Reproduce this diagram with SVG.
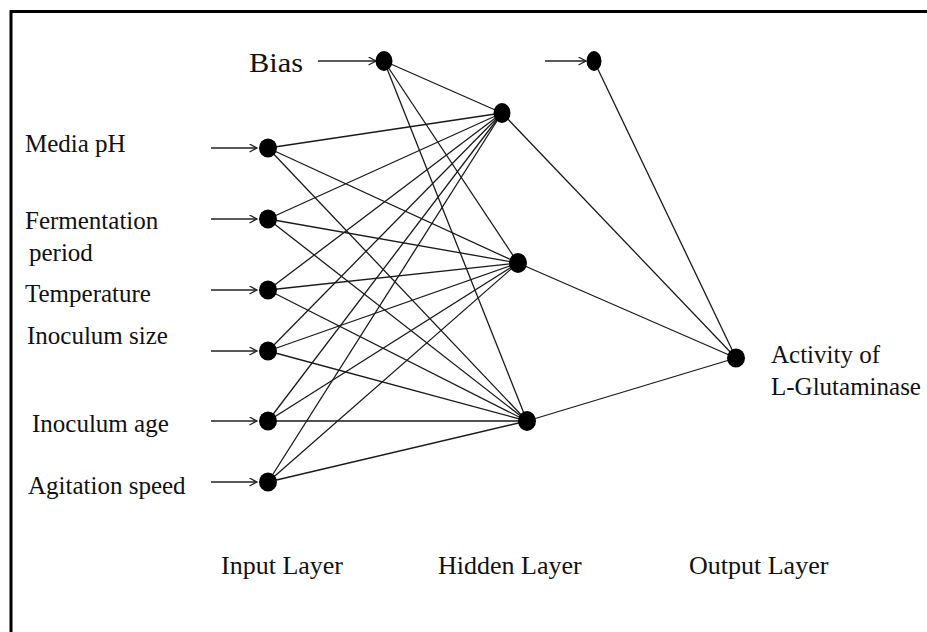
<svg xmlns="http://www.w3.org/2000/svg" width="927" height="632" viewBox="0 0 927 632">
  <defs>
    <marker id="open-arrow" markerWidth="10" markerHeight="10" refX="8" refY="4.5" orient="auto" markerUnits="userSpaceOnUse">
      <path d="M0.5,0.5 L8,4.5 L0.5,8.5" fill="none" stroke="#222" stroke-width="1.3"/>
    </marker>
  </defs>
  <style>
    .frame { fill: none; stroke: #000; stroke-width: 3; }
    .edge { stroke: #1a1a1a; stroke-width: 1.3; fill: none; }
    .feed { stroke: #222; stroke-width: 1.4; fill: none; marker-end: url(#open-arrow); }
    .node { fill: #000; }
    .label { font-family: "Liberation Serif", "Times New Roman", serif; font-size: 25px; fill: #111; }
    .caption { font-family: "Liberation Serif", "Times New Roman", serif; font-size: 26px; fill: #111; }
    .bias { font-family: "Liberation Serif", "Times New Roman", serif; font-size: 28px; fill: #111; }
  </style>

  <rect width="927" height="632" fill="#fff"/>
  <path class="frame" d="M11,640 V11.5 H935"/>

  <!-- weighted connections -->
  <g id="connectors">
    <!-- input layer to hidden layer -->
    <line class="edge" x1="268" y1="148" x2="502" y2="113"/>
    <line class="edge" x1="268" y1="148" x2="518" y2="263"/>
    <line class="edge" x1="268" y1="148" x2="527" y2="421"/>
    <line class="edge" x1="268" y1="219" x2="502" y2="113"/>
    <line class="edge" x1="268" y1="219" x2="518" y2="263"/>
    <line class="edge" x1="268" y1="219" x2="527" y2="421"/>
    <line class="edge" x1="268" y1="290" x2="502" y2="113"/>
    <line class="edge" x1="268" y1="290" x2="518" y2="263"/>
    <line class="edge" x1="268" y1="290" x2="527" y2="421"/>
    <line class="edge" x1="268" y1="351" x2="502" y2="113"/>
    <line class="edge" x1="268" y1="351" x2="518" y2="263"/>
    <line class="edge" x1="268" y1="351" x2="527" y2="421"/>
    <line class="edge" x1="268" y1="421" x2="502" y2="113"/>
    <line class="edge" x1="268" y1="421" x2="518" y2="263"/>
    <line class="edge" x1="268" y1="421" x2="527" y2="421"/>
    <line class="edge" x1="268" y1="482" x2="502" y2="113"/>
    <line class="edge" x1="268" y1="482" x2="518" y2="263"/>
    <line class="edge" x1="268" y1="482" x2="527" y2="421"/>
    <!-- hidden bias -->
    <line class="edge" x1="384" y1="61" x2="502" y2="113"/>
    <line class="edge" x1="384" y1="61" x2="518" y2="263"/>
    <line class="edge" x1="384" y1="61" x2="527" y2="421"/>
    <!-- hidden layer to output -->
    <line class="edge" x1="502" y1="113" x2="736" y2="358"/>
    <line class="edge" x1="518" y1="263" x2="736" y2="358"/>
    <line class="edge" x1="527" y1="421" x2="736" y2="358"/>
    <!-- output bias -->
    <line class="edge" x1="594" y1="61" x2="736" y2="358"/>
    <!-- incoming signals -->
    <line class="feed" x1="211" y1="148" x2="257" y2="148"/>
    <line class="feed" x1="211" y1="219" x2="257" y2="219"/>
    <line class="feed" x1="211" y1="290" x2="257" y2="290"/>
    <line class="feed" x1="211" y1="351" x2="257" y2="351"/>
    <line class="feed" x1="211" y1="421" x2="257" y2="421"/>
    <line class="feed" x1="211" y1="482" x2="257" y2="482"/>
    <line class="feed" x1="318" y1="61" x2="376" y2="61"/>
    <line class="feed" x1="545" y1="61" x2="586" y2="61"/>
  </g>

  <!-- input layer -->
  <g id="in-media-ph">
    <ellipse class="node" cx="268" cy="148" rx="9" ry="9.5"/>
    <text class="label" x="25" y="152">Media pH</text>
  </g>
  <g id="in-fermentation-period">
    <ellipse class="node" cx="268" cy="219" rx="9" ry="9.5"/>
    <text class="label" x="25" y="229">Fermentation</text>
    <text class="label" x="29" y="261">period</text>
  </g>
  <g id="in-temperature">
    <ellipse class="node" cx="268" cy="290" rx="9" ry="9.5"/>
    <text class="label" x="25" y="302">Temperature</text>
  </g>
  <g id="in-inoculum-size">
    <ellipse class="node" cx="268" cy="351" rx="9" ry="9.5"/>
    <text class="label" x="27" y="344">Inoculum size</text>
  </g>
  <g id="in-inoculum-age">
    <ellipse class="node" cx="268" cy="421" rx="9" ry="9.5"/>
    <text class="label" x="32" y="432">Inoculum age</text>
  </g>
  <g id="in-agitation-speed">
    <ellipse class="node" cx="268" cy="482" rx="9" ry="9.5"/>
    <text class="label" x="28" y="494">Agitation speed</text>
  </g>

  <!-- bias units -->
  <g id="bias-hidden">
    <ellipse class="node" cx="384" cy="61" rx="8.5" ry="10"/>
    <text class="bias" x="249" y="72" textLength="54" lengthAdjust="spacingAndGlyphs">Bias</text>
  </g>
  <g id="bias-output">
    <ellipse class="node" cx="594" cy="61" rx="7.5" ry="10"/>
  </g>

  <!-- hidden layer -->
  <g id="hidden-1">
    <ellipse class="node" cx="502" cy="113" rx="8.5" ry="10"/>
  </g>
  <g id="hidden-2">
    <ellipse class="node" cx="518" cy="263" rx="9" ry="10"/>
  </g>
  <g id="hidden-3">
    <ellipse class="node" cx="527" cy="421" rx="9" ry="10"/>
  </g>

  <!-- output layer -->
  <g id="output">
    <ellipse class="node" cx="736" cy="358" rx="9" ry="9.5"/>
    <text class="label" x="771" y="363">Activity of</text>
    <text class="label" x="771" y="395">L-Glutaminase</text>
  </g>

  <!-- layer captions -->
  <g id="captions">
    <text class="caption" x="221" y="574">Input Layer</text>
    <text class="caption" x="438" y="574">Hidden Layer</text>
    <text class="caption" x="689" y="574">Output Layer</text>
  </g>
</svg>
